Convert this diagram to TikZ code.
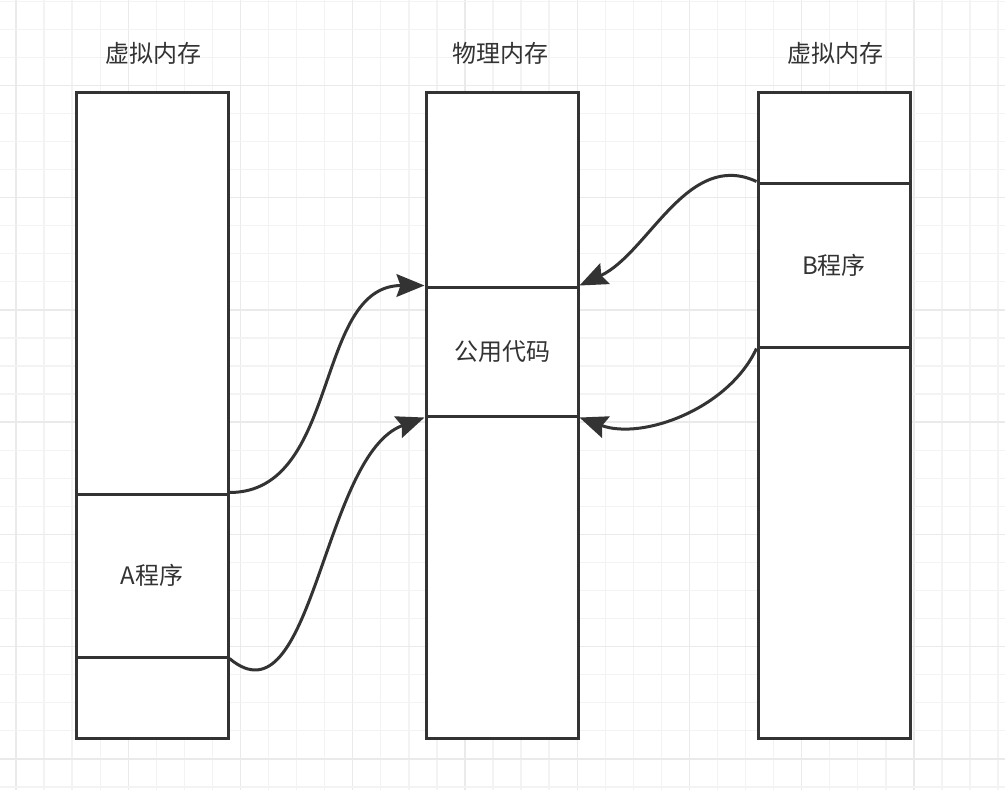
\documentclass[tikz,border=0pt]{standalone}
\usepackage{fontspec}
\newfontfamily\cjk{Noto Sans CJK SC}
\definecolor{memline}{RGB}{51,51,51}
\definecolor{gridminor}{RGB}{243,243,243}
\definecolor{gridmajor}{RGB}{234,234,234}
\usetikzlibrary{arrows.meta}

\begin{document}
\begin{tikzpicture}[x=0.75pt,y=-0.75pt,
    column/.style={draw=memline,line width=2.25pt,fill=white,inner sep=0pt,
                   minimum width=114pt,minimum height=484.5pt},
    segment/.style={draw=memline,line width=2.25pt,inner sep=0pt,
                    minimum width=114pt,text=memline,
                    font=\cjk\fontsize{18}{20}\selectfont},
    title/.style={text=memline,font=\cjk\fontsize{18}{20}\selectfont},
    link/.style={draw=memline,line width=2.25pt,
                 -{Stealth[length=21pt,width=17pt,inset=3pt]}}]
  \useasboundingbox (0,0) rectangle (1005,790);
  \fill[white] (0,0) rectangle (1005,790);

  %% background grid
  \foreach \i in {0,...,35}{
    \pgfmathsetmacro{\gx}{16+\i*28.06}
    \pgfmathtruncatemacro{\gm}{mod(\i,4)}
    \ifnum\gm=0
      \draw[gridmajor,line width=1pt] (\gx,0) -- (\gx,790);
    \else
      \draw[gridminor,line width=1pt] (\gx,0) -- (\gx,790);
    \fi
  }
  \foreach \j in {0,...,28}{
    \pgfmathsetmacro{\gy}{1.2+\j*28.06}
    \pgfmathtruncatemacro{\gm}{mod(\j,4)}
    \ifnum\gm=3
      \draw[gridmajor,line width=1pt] (0,\gy) -- (1005,\gy);
    \else
      \draw[gridminor,line width=1pt] (0,\gy) -- (1005,\gy);
    \fi
  }

  %% Column 1: virtual memory (A)
  \node[title] (virtA) at (153,53) {虚拟内存};
  \node[column] (colA) at (152,415) {};
  \node[segment,minimum height=122.25pt] (progA) at (152,575.5) {A程序};

  %% Column 2: physical memory
  \node[title] (phys) at (500,53) {物理内存};
  \node[column] (colP) at (502,415) {};
  \node[segment,minimum height=96.75pt] (common) at (502,351.5) {公用代码};

  %% Column 3: virtual memory (B)
  \node[title] (virtB) at (835,53) {虚拟内存};
  \node[column] (colB) at (834,415) {};
  \node[segment,minimum height=123pt] (progB) at (834,265) {B程序};

  %% mappings
  \draw[link] (progA.north east) to[out=0,in=180] (common.north west);
  \draw[link] (progA.south east) to[out=-40,in=200,looseness=0.9] (common.south west);
  \draw[link] (progB.north west) to[out=155,in=25,looseness=0.95] (common.north east);
  \draw[link] (progB.south west) to[out=-115,in=-20,looseness=0.9] (common.south east);
\end{tikzpicture}
\end{document}
